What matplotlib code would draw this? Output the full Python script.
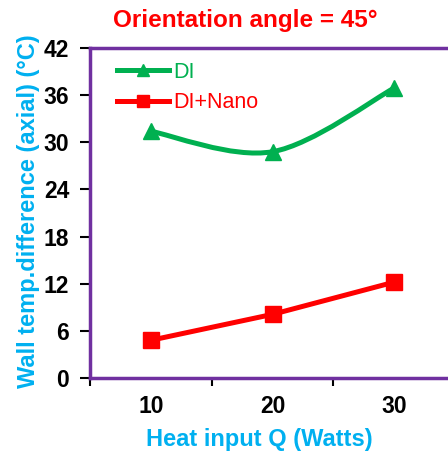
import matplotlib.pyplot as plt
import numpy as np
from matplotlib.path import Path
from matplotlib.patches import PathPatch
from matplotlib.lines import Line2D

plt.rcParams['font.family'] = ['Liberation Sans', 'DejaVu Sans']

heat_input = ['10', '20', '30']
di = [31.4, 28.8, 36.9]
di_nano = [4.8, 8.1, 12.2]
y_ticks = [0, 6, 12, 18, 24, 30, 36, 42]

green = '#00B050'
red = '#FF0000'
cyan = '#00B0F0'
purple = '#7030A0'

fig = plt.figure(figsize=(4.48, 4.54), dpi=100)
ax = fig.add_axes([90 / 448, 1 - 378 / 454, 365 / 448, 330 / 454])

x = np.arange(len(heat_input))

# smoothed green line (catmull-rom -> bezier, like excel "smoothed line")
pts = np.column_stack([x, di]).astype(float)
verts = [pts[0]]
codes = [Path.MOVETO]
n = len(pts)
for i in range(n - 1):
    p_prev = pts[max(i - 1, 0)]
    p0 = pts[i]
    p1 = pts[i + 1]
    p_next = pts[min(i + 2, n - 1)]
    c1 = p0 + (p1 - p_prev) / 6
    c2 = p1 - (p_next - p0) / 6
    verts += [c1, c2, p1]
    codes += [Path.CURVE4] * 3
ax.add_patch(PathPatch(Path(verts, codes), facecolor='none', edgecolor=green,
                       lw=3.6, capstyle='round', zorder=3))
ax.plot(x, di, ls='none', marker='^', ms=12, color=green, zorder=4)

ax.plot(x, di_nano, color=red, lw=3.6, marker='s', ms=11, zorder=4)

ax.set_xlim(-0.5, len(heat_input) - 0.5)
ax.set_ylim(0, 42)
ax.set_yticks(y_ticks)
ax.set_xticks(x)
ax.set_xticklabels(heat_input)
ax.set_xticks(np.arange(len(heat_input) + 1) - 0.5, minor=True)
ax.tick_params(axis='x', which='major', length=0, pad=12)
ax.tick_params(axis='x', which='minor', length=6, width=1.5, direction='out', color='black')
ax.tick_params(axis='y', length=7, width=1.5, direction='out', color='black', pad=8)
for lab in ax.get_xticklabels() + ax.get_yticklabels():
    lab.set_fontsize(16.5)
    lab.set_fontweight('bold')

for s in ['left', 'bottom', 'top', 'right']:
    ax.spines[s].set_color(purple)
    ax.spines[s].set_linewidth(2.5)

ax.set_xlabel('Heat input Q (Watts)', color=cyan, fontsize=17, fontweight='bold')
ax.xaxis.set_label_coords((259 - 90) / 365, (378 - 428) / 330)
ax.set_ylabel('Wall temp.difference (axial) (°C)', color=cyan, fontsize=17,
              fontweight='bold')
ax.yaxis.set_label_coords((40 - 90) / 365, (378 - 211) / 330)
fig.text(245 / 448, 1 - 20 / 454, 'Orientation angle = 45°', color=red, fontsize=17.5,
         fontweight='bold', ha='center', va='center')

handles = [Line2D([], [], color=green, lw=3.6, marker='^', ms=9),
           Line2D([], [], color=red, lw=3.6, marker='s', ms=8)]
leg = ax.legend(handles, ['DI', 'DI+Nano'], loc='upper left', frameon=False,
                fontsize=15.5, handlelength=2.4, handletextpad=0.2, labelspacing=0.45,
                borderaxespad=0, bbox_to_anchor=(0.05, 0.985), labelcolor='linecolor')

fig.savefig('out.png', dpi=100)
